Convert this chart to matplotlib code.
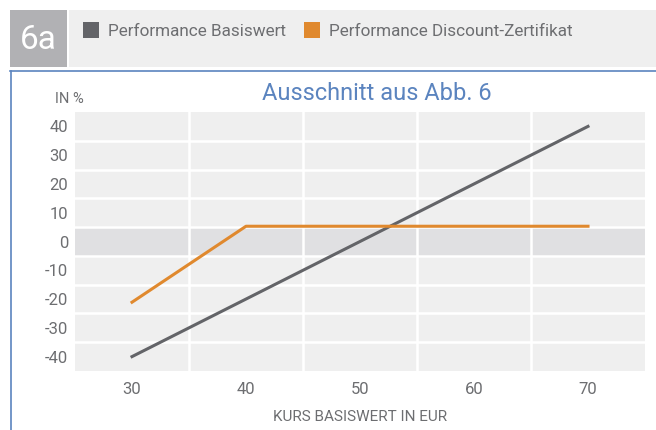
import matplotlib
matplotlib.use("Agg")
import matplotlib.pyplot as plt
from matplotlib.patches import Rectangle
from matplotlib.lines import Line2D
import numpy as np

plt.rcParams['font.family'] = ['Roboto', 'DejaVu Sans']

# Data
kurs_basis = [30, 70]
perf_basis = [-40, 40]
kurs_discount = [30, 40, 70]
perf_discount = [-21.1, 5.3, 5.3]
x_ticks = [30, 40, 50, 60, 70]
y_ticks = [40, 30, 20, 10, 0, -10, -20, -30, -40]
legend_labels = ["Performance Basiswert", "Performance Discount-Zertifikat"]
title = "Ausschnitt aus Abb. 6"
panel_label = "6a"
y_unit = "IN %"
x_label = "KURS BASISWERT IN EUR"

c_basis = "#636468"
c_disc = "#e0892e"
c_text = "#6d6e71"
c_blue = "#5b84bf"

W, H = 656, 430
fig = plt.figure(figsize=(W/100, H/100), dpi=100)

def fx(px): return px / W
def fy(py): return 1 - py / H

# Header
fig.patches.append(Rectangle((fx(10), fy(67)), fx(57), 57/H, transform=fig.transFigure,
                             facecolor="#b1b1b4", edgecolor="none"))
fig.patches.append(Rectangle((fx(69), fy(67)), fx(587), 57/H, transform=fig.transFigure,
                             facecolor="#efefef", edgecolor="none"))
fig.text(fx(38), fy(40), panel_label, color="white", fontsize=24,
         ha="center", va="center")
fig.patches.append(Rectangle((fx(83), fy(38)), fx(16), 16/H, transform=fig.transFigure,
                             facecolor=c_basis, edgecolor="none"))
fig.text(fx(108), fy(31), legend_labels[0], color=c_text, fontsize=12.3, ha="left", va="center")
fig.patches.append(Rectangle((fx(304), fy(38)), fx(16), 16/H, transform=fig.transFigure,
                             facecolor=c_disc, edgecolor="none"))
fig.text(fx(329), fy(31), legend_labels[1], color=c_text, fontsize=12.3, ha="left", va="center")

# Blue frame
fig.add_artist(Line2D([fx(10), 1], [fy(70.5), fy(70.5)], transform=fig.transFigure, color=c_blue, lw=1.2))
fig.add_artist(Line2D([fx(10.5), fx(10.5)], [fy(70.5), 0], transform=fig.transFigure, color=c_blue, lw=1.2))

fig.text(fx(377), fy(93), title, color=c_blue, fontsize=17, ha="center", va="center")
fig.text(fx(55), fy(99), y_unit, color=c_text, fontsize=10.5, ha="left", va="center")

ax = fig.add_axes([fx(75), fy(371), (645-75)/W, (371-112)/H])
ax.set_xlim(25, 75)
ax.set_ylim(-45, 45)
ax.set_facecolor("#efefef")
ax.axhspan(-5, 5, color="#e0e0e2", zorder=0)
for v in np.arange(-35, 45, 10):
    ax.axhline(v, color="white", lw=1.8, zorder=1)
for v in np.arange(35, 75, 10):
    ax.axvline(v, color="white", lw=1.8, zorder=1)

ax.plot(kurs_basis, perf_basis, color=c_basis, lw=2.2, zorder=3, solid_capstyle="projecting")
ax.plot(kurs_discount, perf_discount, color=c_disc, lw=2.2, zorder=3, solid_capstyle="projecting")

ax.set_xticks(x_ticks)
ax.set_yticks(y_ticks)
ax.set_xticklabels([str(v) for v in x_ticks])
ax.set_yticklabels([str(v) for v in y_ticks])
ax.tick_params(length=0, colors=c_text, labelsize=12)
ax.tick_params(axis="x", pad=8)
ax.tick_params(axis="y", pad=5)
for s in ax.spines.values():
    s.set_visible(False)
ax.set_xlabel(x_label, color=c_text, fontsize=11, labelpad=9)

fig.savefig("out.png", dpi=100)
